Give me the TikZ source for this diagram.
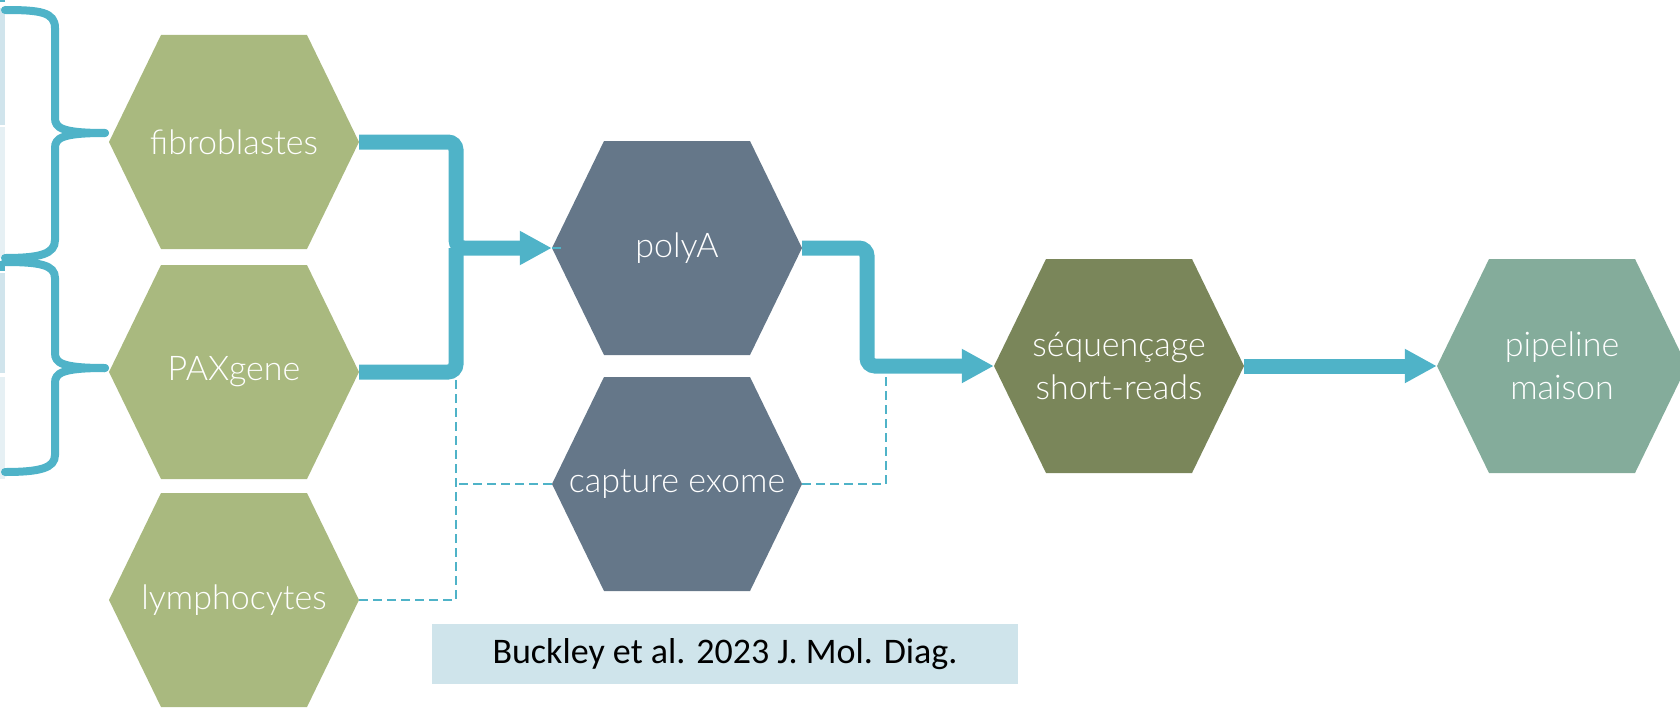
\documentclass[tikz,border=0pt]{standalone}
\usepackage{fontspec}
\setmainfont{Open Sans}
\newfontfamily\hexfont{Lato}[UprightFont=* Light]
\newfontfamily\reffont{Carlito}
\usetikzlibrary{arrows.meta}
\definecolor{conncol}{HTML}{4FB3C8}
\definecolor{greenhex}{HTML}{A9B97F}
\definecolor{slatehex}{HTML}{657789}
\definecolor{olivehex}{HTML}{7A865A}
\definecolor{sagehex}{HTML}{84AC9B}
\definecolor{refbox}{HTML}{CFE4EB}
\definecolor{stripA}{HTML}{D0E4EC}
\definecolor{stripB}{HTML}{E6F0F4}
\newcommand\hexa[5]{%
  \fill[#4] (#2,#3) ++(-125,0) -- ++(52,-107) -- ++(146,0) -- ++(52,107)
     -- ++(-52,107) -- ++(-146,0) -- cycle;
  \node[hexnode] (#1) at (#2,#3) {#5};}
\begin{document}
\begin{tikzpicture}[x=1pt,y=-1pt,
  hexnode/.style={minimum width=250pt,minimum height=214pt,inner sep=0pt,
    text=white,align=center,font=\hexfont\fontsize{34}{43}\selectfont},
  thickconn/.style={draw=conncol,line width=15pt,rounded corners=8pt},
  arrowed/.style={-{Triangle[length=32pt,width=32pt]}},
  dashconn/.style={draw=conncol,line width=2pt,dash pattern=on 9pt off 5pt},
  bracecurve/.style={draw=conncol,line width=8pt,line cap=round}]
\useasboundingbox (0,0) rectangle (1680,709);
% left edge strips
\fill[conncol] (0,0) rectangle (5,2);
\fill[stripA] (0,8) rectangle (5,125);
\fill[stripB] (0,127) rectangle (5,258);
\fill[conncol] (0,261) rectangle (5,271);
\fill[stripA] (0,273) rectangle (5,373);
\fill[stripB] (0,377) rectangle (5,479);
% braces
\draw[bracecurve] (5,10) .. controls (40,10) and (55,12) .. (55,28) -- (55,118)
   .. controls (55,128) and (62,133) .. (105,133);
\draw[bracecurve] (105,133) .. controls (62,133) and (55,138) .. (55,148) -- (55,240)
   .. controls (55,254) and (40,258) .. (5,258);
\draw[bracecurve] (5,262) .. controls (40,262) and (55,265) .. (55,278) -- (55,353)
   .. controls (55,363) and (62,368) .. (105,368);
\draw[bracecurve] (105,368) .. controls (62,368) and (55,373) .. (55,383) -- (55,455)
   .. controls (55,468) and (40,472) .. (5,472);
% hexagons
\hexa{fib}{234}{142}{greenhex}{fibroblastes}
\hexa{pax}{234}{372}{greenhex}{PAXgene}
\hexa{lymph}{234}{600}{greenhex}{lymphocytes}
\hexa{polyA}{677}{248}{slatehex}{polyA}
\hexa{capture}{677}{484}{slatehex}{capture exome}
\hexa{seq}{1119}{366}{olivehex}{séquençage\\short-reads}
\hexa{pipe}{1562}{366}{sagehex}{pipeline\\maison}
% junction points
\coordinate (j1) at (456,248);
\coordinate (d0) at (456,378);
\coordinate (d1) at (456,484);
\coordinate (j3) at (867,366);
\coordinate (d2) at (886,374);
% dashed connectors
\draw[dashconn] (lymph.east) -| (d0);
\draw[dashconn] (capture.west) -- (d1);
\draw[dashconn] (capture.east) -| (d2);
\draw[dashconn] (polyA.west) -- ++(12,0);
% thick connectors
\draw[thickconn] (pax.east) -| (j1);
\draw[thickconn,arrowed] (fib.east) -| (j1) -- (polyA.west);
\draw[thickconn,arrowed] (polyA.east) -| (j3) -- (seq.west);
\draw[thickconn,arrowed] (seq.east) -- (pipe.west);
% reference box
\node[fill=refbox,minimum width=586pt,minimum height=60pt,inner sep=0pt,
  font=\reffont\fontsize{36}{40}\selectfont] (ref) at (725,654) {Buckley et al. 2023 J. Mol. Diag.};
\end{tikzpicture}
\end{document}
